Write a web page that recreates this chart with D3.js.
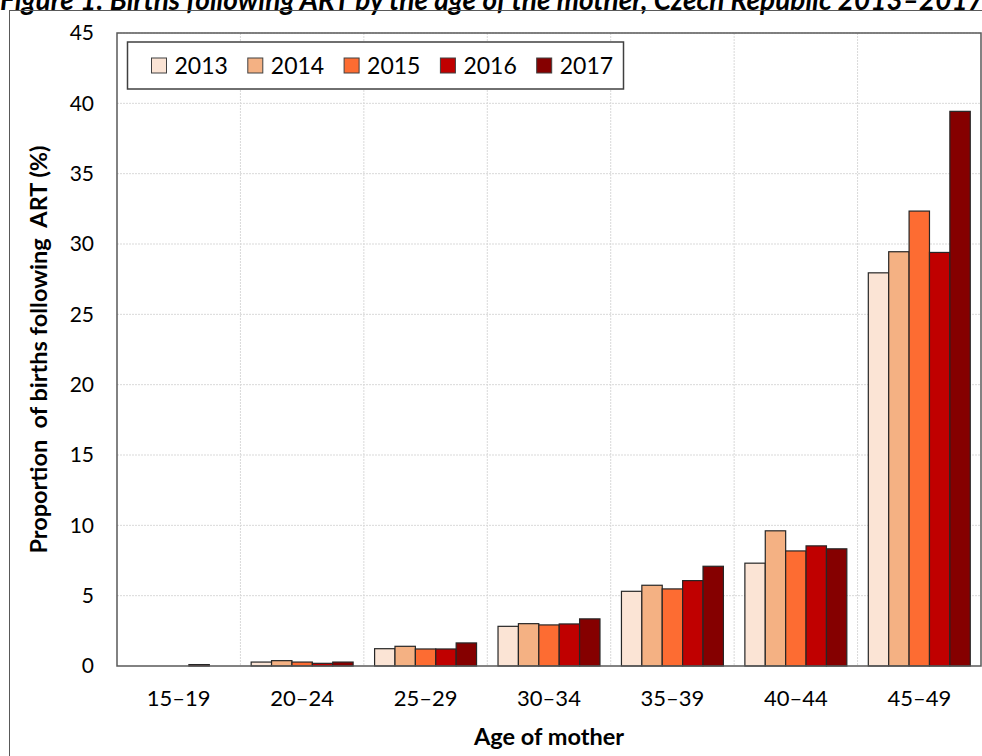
<!DOCTYPE html>
<html>
<head>
<meta charset="utf-8">
<script src="https://cdn.jsdelivr.net/npm/d3@7"></script>
<style>
  body { margin: 0; background: #fff; }
  svg { display: block; font-family: Lato, "Open Sans", sans-serif; }
</style>
</head>
<body>
<div id="chart"></div>
<script>
const ageGroups = ["15–19", "20–24", "25–29", "30–34", "35–39", "40–44", "45–49"]
const years = ["2013", "2014", "2015", "2016", "2017"]
const values2013 = [0, 0.28, 1.23, 2.82, 5.31, 7.31, 27.95]
const values2014 = [0, 0.38, 1.40, 3.01, 5.74, 9.61, 29.45]
const values2015 = [0, 0.28, 1.21, 2.92, 5.48, 8.18, 32.34]
const values2016 = [0.1, 0.19, 1.21, 2.99, 6.07, 8.54, 29.40]
const values2017 = [0, 0.28, 1.64, 3.35, 7.09, 8.33, 39.43]
const yTicks = [0, 5, 10, 15, 20, 25, 30, 35, 40, 45]
const colors = ["#fbe4d5", "#f4b183", "#fd6c32", "#c00000", "#850000"]

const seriesValues = [values2013, values2014, values2015, values2016, values2017]
const data = ageGroups.map((g, i) => ({
  group: g,
  values: years.map((y, j) => ({ year: y, value: seriesValues[j][i] }))
}))

const width = 982, height = 756
const margin = { left: 117, right: 1, top: 33, bottom: 90 }
const innerW = width - margin.left - margin.right
const innerH = height - margin.top - margin.bottom

const svg = d3.select("#chart")
              .append("svg")
              .attr("width", width)
              .attr("height", height)

// title, partly cut off at the top like in the source picture
svg.append("text")
   .attr("x", 0)
   .attr("y", 10)
   .attr("font-size", 28)
   .attr("font-weight", "bold")
   .attr("font-style", "italic")
   .text("Figure 1: Births following ART by the age of the mother, Czech Republic 2013–2017")

// outer frame
svg.append("rect")
   .attr("x", 9.5).attr("y", 10.5)
   .attr("width", width + 10).attr("height", height + 10)
   .attr("fill", "none")
   .attr("stroke", "#595959")
   .attr("stroke-width", 1)

const g = svg.append("g")
             .attr("transform", "translate(" + margin.left + "," + margin.top + ")")

const x0 = d3.scaleBand()
             .domain(ageGroups)
             .range([0, innerW])
const pad = x0.bandwidth() * 0.087
const x1 = d3.scaleBand()
             .domain(years)
             .range([pad, x0.bandwidth() - pad])
const y = d3.scaleLinear()
            .domain([0, 45])
            .range([innerH, 0])

// gridlines
g.append("g")
 .selectAll("line")
 .data(yTicks.slice(1))
 .join("line")
 .attr("x1", 0).attr("x2", innerW)
 .attr("y1", d => y(d)).attr("y2", d => y(d))
 .attr("stroke", "#d9d9d9")
 .attr("stroke-dasharray", "2,1")
g.append("g")
 .selectAll("line")
 .data(ageGroups.slice(1))
 .join("line")
 .attr("x1", d => x0(d)).attr("x2", d => x0(d))
 .attr("y1", 0).attr("y2", innerH)
 .attr("stroke", "#d9d9d9")
 .attr("stroke-dasharray", "2,1")

// bars
g.append("g")
 .selectAll("g")
 .data(data)
 .join("g")
 .attr("transform", d => "translate(" + x0(d.group) + ",0)")
 .selectAll("rect")
 .data(d => d.values.filter(v => v.value > 0))
 .join("rect")
 .attr("x", d => x1(d.year))
 .attr("y", d => y(d.value))
 .attr("width", x1.bandwidth())
 .attr("height", d => y(0) - y(d.value))
 .attr("fill", d => colors[years.indexOf(d.year)])
 .attr("stroke", "#262626")
 .attr("stroke-width", 1.2)

// plot border
g.append("rect")
 .attr("x", 0).attr("y", 0)
 .attr("width", innerW).attr("height", innerH)
 .attr("fill", "none")
 .attr("stroke", "#595959")
 .attr("stroke-width", 1.5)

// axes
const yAxis = d3.axisLeft(y).tickValues(yTicks).tickSize(0).tickPadding(23)
g.append("g")
 .call(yAxis)
 .call(a => a.select(".domain").remove())
 .selectAll("text")
 .attr("font-size", 21)
 .attr("font-family", "Lato, sans-serif")
 .attr("fill", "#000")

const xAxis = d3.axisBottom(x0).tickSize(0).tickPadding(24)
g.append("g")
 .attr("transform", "translate(0," + innerH + ")")
 .call(xAxis)
 .call(a => a.select(".domain").remove())
 .selectAll("text")
 .attr("font-size", 22)
 .attr("font-family", "Lato, sans-serif")
 .attr("fill", "#000")

// axis titles
g.append("text")
 .attr("x", innerW / 2)
 .attr("y", innerH + 79)
 .attr("text-anchor", "middle")
 .attr("font-size", 23.5)
 .attr("font-weight", "bold")
 .text("Age of mother")

g.append("text")
 .attr("transform", "translate(-70," + innerH / 2 + ") rotate(-90)")
 .attr("text-anchor", "middle")
 .attr("font-size", 23.5)
 .attr("font-weight", "bold")
 .style("white-space", "pre")
 .text("Proportion  of births following  ART (%)")

// legend
const legend = g.append("g").attr("transform", "translate(10.5,9)")
legend.append("rect")
      .attr("width", 496).attr("height", 47)
      .attr("fill", "#fff")
      .attr("stroke", "#404040")
      .attr("stroke-width", 1.5)
const item = legend.selectAll("g.item")
                   .data(years)
                   .join("g")
                   .attr("class", "item")
                   .attr("transform", (d, i) => "translate(" + (24 + i * 96.3) + ",16)")
item.append("rect")
    .attr("width", 15).attr("height", 15)
    .attr("fill", (d, i) => colors[i])
    .attr("stroke", "#404040")
    .attr("stroke-width", 1)
item.append("text")
    .attr("x", 23)
    .attr("y", 15.5)
    .attr("font-size", 23)
    .text(d => d)
</script>
</body>
</html>
